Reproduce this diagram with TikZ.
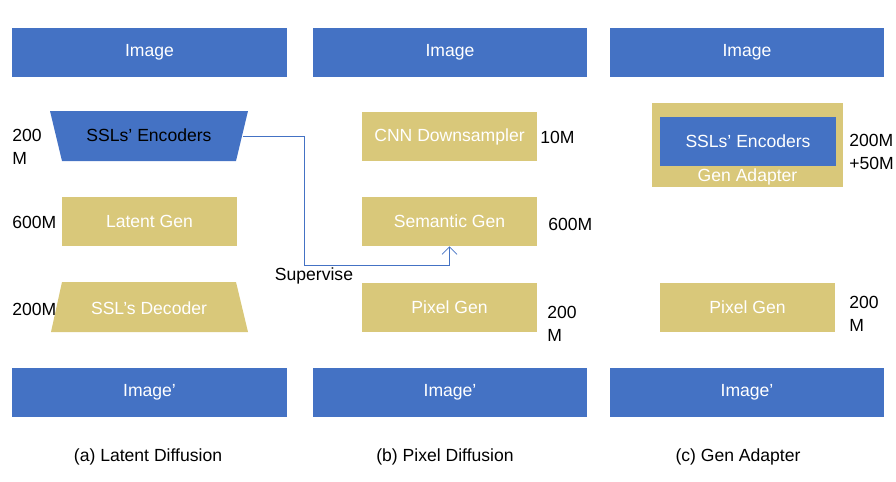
\documentclass[tikz,border=0pt]{standalone}
\usepackage{fontspec}
\setmainfont{Liberation Sans}
\usetikzlibrary{arrows.meta}
\definecolor{ssblue}{RGB}{68,114,196}
\definecolor{gengold}{RGB}{217,200,122}
\begin{document}
\begin{tikzpicture}[x=0.02cm, y=-0.02cm, font=\fontsize{10}{12}\selectfont,
    img/.style = {fill=ssblue, text=white, minimum width=5.5cm, minimum height=0.98cm},
    gen/.style = {fill=gengold, text=white, minimum width=3.5cm, minimum height=0.98cm},
    num/.style = {anchor=west, align=left, inner sep=0pt, font=\fontsize{10}{13}\selectfont}]

    \useasboundingbox (0,0) rectangle (896,481);

    % inputs and outputs
    \node [img] (ina) at (149.5, 52.5) {Image};
    \node [img] (inb) at (450, 52.5) {Image};
    \node [img] (inc) at (747, 52.5) {Image};
    \node [img] (outa) at (149.5, 392.5) {Image’};
    \node [img] (outb) at (450, 392.5) {Image’};
    \node [img] (outc) at (747, 392.5) {Image’};

    % (a)
    \fill [ssblue] (50, 111) -- (248, 111) -- (236, 161) -- (62, 161) -- cycle;
    \node (enca) at (149, 135) {SSLs’ Encoders};
    \coordinate (encr) at (243, 136);
    \node [gen] (latent) at (149.5, 221.5) {Latent Gen};
    \fill [gengold] (62, 282) -- (236, 282) -- (248, 332) -- (51, 332) -- cycle;
    \node [text=white] (deca) at (149, 308) {SSL’s Decoder};
    \node [num] (n1) at (12, 147) {200\\M};
    \node [num] (n2) at (12, 222) {600M};
    \node [num] (n3) at (12, 309) {200M};

    % (b)
    \node [gen] (cnn) at (449.5, 136.5) {CNN Downsampler};
    \node [gen] (sem) at (449.5, 221.5) {Semantic Gen};
    \node [gen] (pixb) at (449.5, 307.5) {Pixel Gen};
    \node [num] (n4) at (540, 137) {10M};
    \node [num] (n5) at (548, 224) {600M};
    \node [num] (n6) at (547, 324) {200\\M};

    % (c)
    \node [fill=gengold, minimum width=3.82cm, minimum height=1.68cm] (adapter) at (747.5, 145) {};
    \node [fill=ssblue, text=white, minimum width=3.52cm, minimum height=0.98cm] (encc) at (748, 141.5) {SSLs’ Encoders};
    \node [text=white] (adlabel) at (747.5, 177) {Gen Adapter};
    \node [gen] (pixc) at (747.5, 307.5) {Pixel Gen};
    \node [num] (n7) at (849, 152) {200M\\+50M};
    \node [num] (n8) at (849, 314) {200\\M};

    % supervision
    \draw [ssblue, -{Straight Barb[length=1.5mm]}] (encr) -| (304, 265) -| (sem.south);
    \node (sup) at (314, 276) {Supervise};

    % captions
    \node (capa) at (148, 457) {(a) Latent Diffusion};
    \node (capb) at (445, 457) {(b) Pixel Diffusion};
    \node (capc) at (738, 457) {(c) Gen Adapter};

\end{tikzpicture}
\end{document}
